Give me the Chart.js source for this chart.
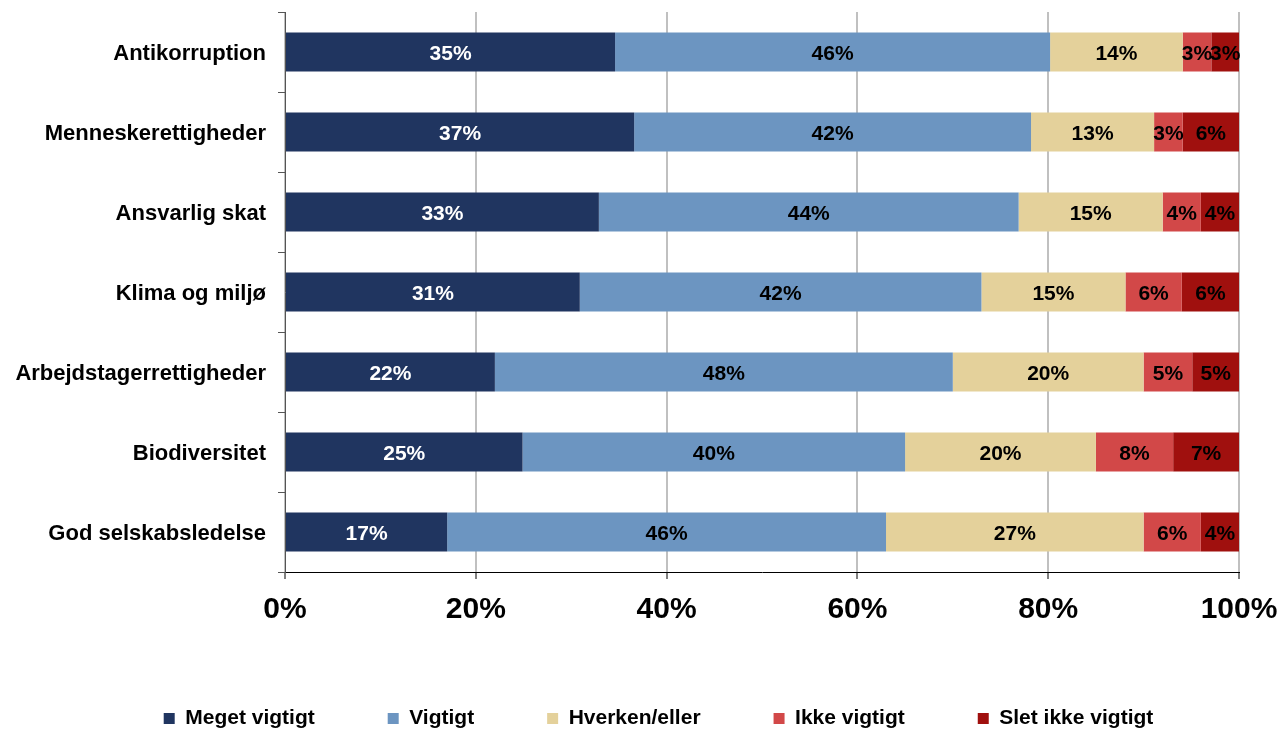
<!DOCTYPE html>
<html>
  <head>
    <meta charset="utf-8">
    <title>Vigtighed af emner</title>
    <script src="https://cdn.jsdelivr.net/npm/chart.js"></script>
    <style>
      body {
        margin: 0;
        background: #fff;
      }

      #wrap {
        width: 1283px;
        height: 729px;
      }
    </style>
  </head>
  <body>
    <div id="wrap"><canvas id="chart"></canvas></div>

    <script>
      const categories = [
        'Antikorruption',
        'Menneskerettigheder',
        'Ansvarlig skat',
        'Klima og miljø',
        'Arbejdstagerrettigheder',
        'Biodiversitet',
        'God selskabsledelse',
      ];
      const megetVigtigt = [34.6, 36.6, 32.9, 30.9, 22.0, 24.9, 17.0];
      const vigtigt = [45.6, 41.6, 44.0, 42.1, 48.0, 40.1, 46.0];
      const hverkenEller = [13.9, 12.9, 15.1, 15.1, 20.0, 20.0, 27.0];
      const ikkeVigtigt = [3.0, 3.0, 4.0, 5.9, 5.1, 8.1, 6.0];
      const sletIkkeVigtigt = [2.9, 5.9, 4.0, 6.0, 4.9, 6.9, 4.0];
      const xTicks = [0, 20, 40, 60, 80, 100];

      const font = "'Liberation Sans', Arial, sans-serif";

      // draws the rounded percentage in the middle of each segment
      const barLabels = {
        id: 'barLabels',
        afterDatasetsDraw(chart) {
          const ctx = chart.ctx;
          ctx.save();
          ctx.font = 'bold 21px ' + font;
          ctx.textAlign = 'center';
          ctx.textBaseline = 'middle';
          chart.data.datasets.forEach((ds, i) => {
            const meta = chart.getDatasetMeta(i);
            meta.data.forEach((bar, j) => {
              const p = bar.getCenterPoint();
              ctx.fillStyle = i === 0 ? '#ffffff' : '#000000';
              ctx.fillText(Math.round(ds.data[j]) + '%', p.x, p.y + 2);
            });
          });
          ctx.restore();
        },
      };

      // move the legend row a bit down and right, like the original
      const legendShift = {
        id: 'legendShift',
        afterLayout(chart) {
          const lg = chart.legend;
          lg.top += 10;
          lg.bottom += 10;
          lg.left += 39;
          lg.right += 39;
        },
      };

      const ctx = document.getElementById('chart').getContext('2d');
      new Chart(ctx, {
        type: 'bar',
        data: {
          labels: categories,
          datasets: [
            { label: 'Meget vigtigt', data: megetVigtigt, backgroundColor: '#203560' },
            { label: 'Vigtigt', data: vigtigt, backgroundColor: '#6c95c1' },
            { label: 'Hverken/eller', data: hverkenEller, backgroundColor: '#e4d19b' },
            { label: 'Ikke vigtigt', data: ikkeVigtigt, backgroundColor: '#d24848' },
            { label: 'Slet ikke vigtigt', data: sletIkkeVigtigt, backgroundColor: '#a0100e' },
          ],
        },
        options: {
          indexAxis: 'y',
          responsive: true,
          maintainAspectRatio: false,
          animation: false,
          barPercentage: 0.49,
          categoryPercentage: 1,
          layout: {
            padding: { top: 12, right: 44, left: 0, bottom: 0 },
          },
          scales: {
            x: {
              stacked: true,
              min: 0,
              max: 100,
              afterBuildTicks: (scale) => {
                scale.ticks = xTicks.map((v) => ({ value: v }));
              },
              afterFit: (scale) => {
                scale.height = 53;
                scale.paddingLeft = 0;
                scale.paddingRight = 0;
              },
              ticks: {
                callback: (v) => v + '%',
                color: '#000',
                padding: 13,
                maxRotation: 0,
                font: { family: font, size: 30, weight: 'bold' },
              },
              grid: {
                color: '#c0c0c0',
                lineWidth: 2,
                tickLength: 7,
                tickColor: '#000',
                tickWidth: 1,
              },
              border: { color: '#000', width: 1 },
            },
            y: {
              stacked: true,
              afterFit: (scale) => {
                scale.width = 285;
                scale.paddingTop = 0;
                scale.paddingBottom = 0;
              },
              ticks: {
                color: '#000',
                padding: 12,
                labelOffset: 2,
                font: { family: font, size: 22, weight: 'bold' },
              },
              grid: {
                drawOnChartArea: false,
                tickLength: 7,
                tickColor: '#555',
                tickWidth: 1,
              },
              border: { color: '#555', width: 1 },
            },
          },
          plugins: {
            tooltip: { enabled: false },
            legend: {
              position: 'bottom',
              labels: {
                boxWidth: 11,
                boxHeight: 11,
                padding: 73,
                color: '#000',
                font: { family: font, size: 21, weight: 'bold' },
              },
            },
          },
        },
        plugins: [barLabels, legendShift],
      });
    </script>
  </body>
</html>
